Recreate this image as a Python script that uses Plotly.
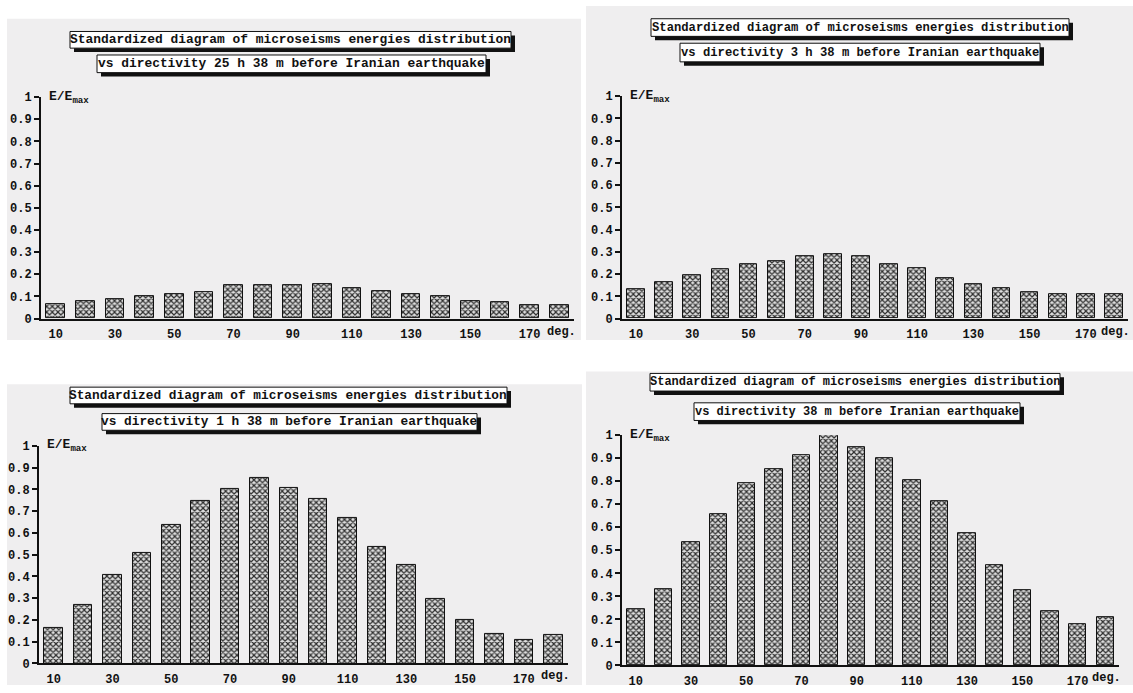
import plotly.graph_objects as go

# Direction of the sensor (degrees) and normalised microseism energy E/Emax
angles = [10, 20, 30, 40, 50, 60, 70, 80, 90, 100, 110, 120, 130, 140, 150, 160, 170, 180]
e_25h38m = [0.066, 0.078, 0.090, 0.100, 0.112, 0.120, 0.150, 0.152, 0.152, 0.155,
            0.136, 0.125, 0.109, 0.103, 0.080, 0.072, 0.062, 0.062]
e_3h38m = [0.133, 0.165, 0.194, 0.224, 0.243, 0.258, 0.281, 0.291, 0.281, 0.245,
           0.227, 0.182, 0.155, 0.136, 0.117, 0.111, 0.111, 0.111]
e_1h38m = [0.164, 0.268, 0.408, 0.510, 0.635, 0.747, 0.803, 0.851, 0.805, 0.758,
           0.668, 0.534, 0.451, 0.295, 0.200, 0.138, 0.110, 0.129]
e_38m = [0.243, 0.331, 0.536, 0.659, 0.792, 0.851, 0.915, 1.000, 0.946, 0.900,
         0.805, 0.714, 0.574, 0.436, 0.327, 0.235, 0.178, 0.208]

title_top = "Standardized diagram of microseisms energies distribution"
subtitles = [
    "vs directivity 25 h 38 m before Iranian earthquake",
    "vs directivity 3 h 38 m before Iranian earthquake",
    "vs directivity 1 h 38 m before Iranian earthquake",
    "vs directivity 38 m before Iranian earthquake",
]
series = [e_25h38m, e_3h38m, e_1h38m, e_38m]

x_label_vals = [10, 30, 50, 70, 90, 110, 130, 150, 170]
x_label_text = [str(v) for v in x_label_vals]
x_tick_marks = [15, 25, 35, 45, 55, 65, 75, 85, 95, 105, 115, 125, 135, 145, 155, 165, 175, 185]
y_tick_vals = [0, 0.1, 0.2, 0.3, 0.4, 0.5, 0.6, 0.7, 0.8, 0.9, 1.0]
y_tick_text = ["0", "0.1", "0.2", "0.3", "0.4", "0.5", "0.6", "0.7", "0.8", "0.9", "1"]

W, H = 1133, 693
FONT = "Liberation Mono"
INK = "#111111"
PANEL_BG = "#efeeef"


def fx(px):
    return px / W


def fy(py):
    return 1 - py / H


# Pixel layout of each panel: background, axis box, and the two title boxes
panels = [
    dict(bg=(7, 13, 581, 341), ax=(41, 574, 93, 319),
         box1=(70, 26, 511, 43), box2=(97, 50, 486, 68), fs=12.9),
    dict(bg=(586, 0, 1133, 341), ax=(622, 1128, 92, 319),
         box1=(651, 13, 1069, 31), box2=(680, 38, 1040, 57), fs=12.2),
    dict(bg=(7, 386, 582, 693), ax=(39, 568, 449, 671),
         box1=(70, 389, 507, 406), box2=(102, 416, 477, 433), fs=12.8),
    dict(bg=(586, 373, 1133, 693), ax=(622, 1119, 438, 673),
         box1=(650, 375, 1060, 393), box2=(694, 405, 1020, 423), fs=12.0),
]

X_RANGE = [5, 185]
Y_RANGE = [0, 1]

fig = go.Figure()
layout = dict(
    width=W, height=H,
    margin=dict(l=0, r=0, t=0, b=0),
    paper_bgcolor="white", plot_bgcolor="rgba(0,0,0,0)",
    showlegend=False, bargap=0,
)
shapes = []
annotations = []

label_font = dict(family=FONT, size=12, color=INK, weight="bold")

for i, (p, vals, sub) in enumerate(zip(panels, series, subtitles)):
    n = i + 1
    xa = "x" if n == 1 else f"x{n}"
    ya = "y" if n == 1 else f"y{n}"
    xkey = "xaxis" if n == 1 else f"xaxis{n}"
    ykey = "yaxis" if n == 1 else f"yaxis{n}"
    x0, x1, ytop, ybot = p["ax"]

    fig.add_trace(go.Bar(
        x=angles, y=vals, width=6.3, xaxis=xa, yaxis=ya,
        marker=dict(
            color="#c8c8c8",
            line=dict(color=INK, width=1),
            pattern=dict(shape="x", size=4, solidity=0.5,
                         fgcolor="#2e2e2e", bgcolor="#dedede", fillmode="replace"),
        ),
        hoverinfo="x+y",
    ))

    # main axes: labels, outward ticks
    layout[xkey] = dict(
        domain=[fx(x0), fx(x1)], range=X_RANGE, anchor=ya,
        tickvals=x_label_vals, ticktext=x_label_text, ticks="",
        showline=True, linecolor=INK, linewidth=2,
        showgrid=False, zeroline=False, tickfont=label_font, ticklabelstandoff=3,
        fixedrange=True,
    )
    layout[ykey] = dict(
        domain=[fy(ybot), fy(ytop)], range=Y_RANGE, anchor=xa,
        tickvals=y_tick_vals, ticktext=y_tick_text,
        ticks="outside", ticklen=5, tickwidth=2, tickcolor=INK,
        showline=True, linecolor=INK, linewidth=2, ticklabelstandoff=0,
        showgrid=False, zeroline=False, tickfont=label_font,
        fixedrange=True,
    )

    # overlay axes that give the tick marks their crossing look
    ox_out = f"xaxis{4 + 2 * n - 1}"
    ox_in = f"xaxis{4 + 2 * n}"
    oy_in = f"yaxis{4 + n}"
    layout[ox_out] = dict(
        overlaying=xa, anchor=ya, range=X_RANGE, tickvals=x_tick_marks,
        ticks="outside", ticklen=4, tickwidth=2, tickcolor=INK,
        showticklabels=False, showline=False, showgrid=False, zeroline=False,
        fixedrange=True,
    )
    layout[ox_in] = dict(
        overlaying=xa, anchor=ya, range=X_RANGE, tickvals=x_tick_marks,
        ticks="inside", ticklen=2, tickwidth=2, tickcolor=INK,
        showticklabels=False, showline=False, showgrid=False, zeroline=False,
        fixedrange=True,
    )
    layout[oy_in] = dict(
        overlaying=ya, anchor=xa, range=Y_RANGE, tickvals=y_tick_vals,
        ticks="inside", ticklen=4, tickwidth=2, tickcolor=INK,
        showticklabels=False, showline=False, showgrid=False, zeroline=False,
        fixedrange=True,
    )

    # panel background
    bx0, by0, bx1, by1 = p["bg"]
    shapes.append(dict(type="rect", xref="paper", yref="paper", layer="below",
                       x0=fx(bx0), x1=fx(bx1), y0=fy(by1), y1=fy(by0),
                       fillcolor=PANEL_BG, line=dict(width=0)))

    # framed title boxes with a drop shadow
    for box, txt in ((p["box1"], title_top), (p["box2"], sub)):
        tx0, ty0, tx1, ty1 = box
        shapes.append(dict(type="rect", xref="paper", yref="paper",
                           x0=fx(tx0 + 4), x1=fx(tx1 + 4), y0=fy(ty1 + 4), y1=fy(ty0 + 4),
                           fillcolor=INK, line=dict(width=0)))
        shapes.append(dict(type="rect", xref="paper", yref="paper",
                           x0=fx(tx0), x1=fx(tx1), y0=fy(ty1), y1=fy(ty0),
                           fillcolor="white", line=dict(color=INK, width=1)))
        annotations.append(dict(
            text=txt, xref="paper", yref="paper",
            x=fx((tx0 + tx1) / 2), y=fy((ty0 + ty1) / 2),
            xanchor="center", yanchor="middle", showarrow=False,
            font=dict(family=FONT, size=p["fs"], color=INK, weight="bold"),
        ))

    # axis captions
    annotations.append(dict(
        text="E/E<sub>max</sub>",
        xref=f"{xa} domain", yref=f"{ya} domain",
        x=0, y=1, xanchor="left", yanchor="middle", xshift=6, yshift=0,
        showarrow=False, font=dict(family=FONT, size=13, color=INK, weight="bold"),
    ))
    annotations.append(dict(
        text="deg.", xref=f"{xa} domain", yref=f"{ya} domain",
        x=1, y=0, xanchor="right", yanchor="top", yshift=-4, xshift=4,
        showarrow=False, font=dict(family=FONT, size=12, color=INK, weight="bold"),
    ))

layout["shapes"] = shapes
layout["annotations"] = annotations
fig.update_layout(**layout)

fig.write_html("out.html")
